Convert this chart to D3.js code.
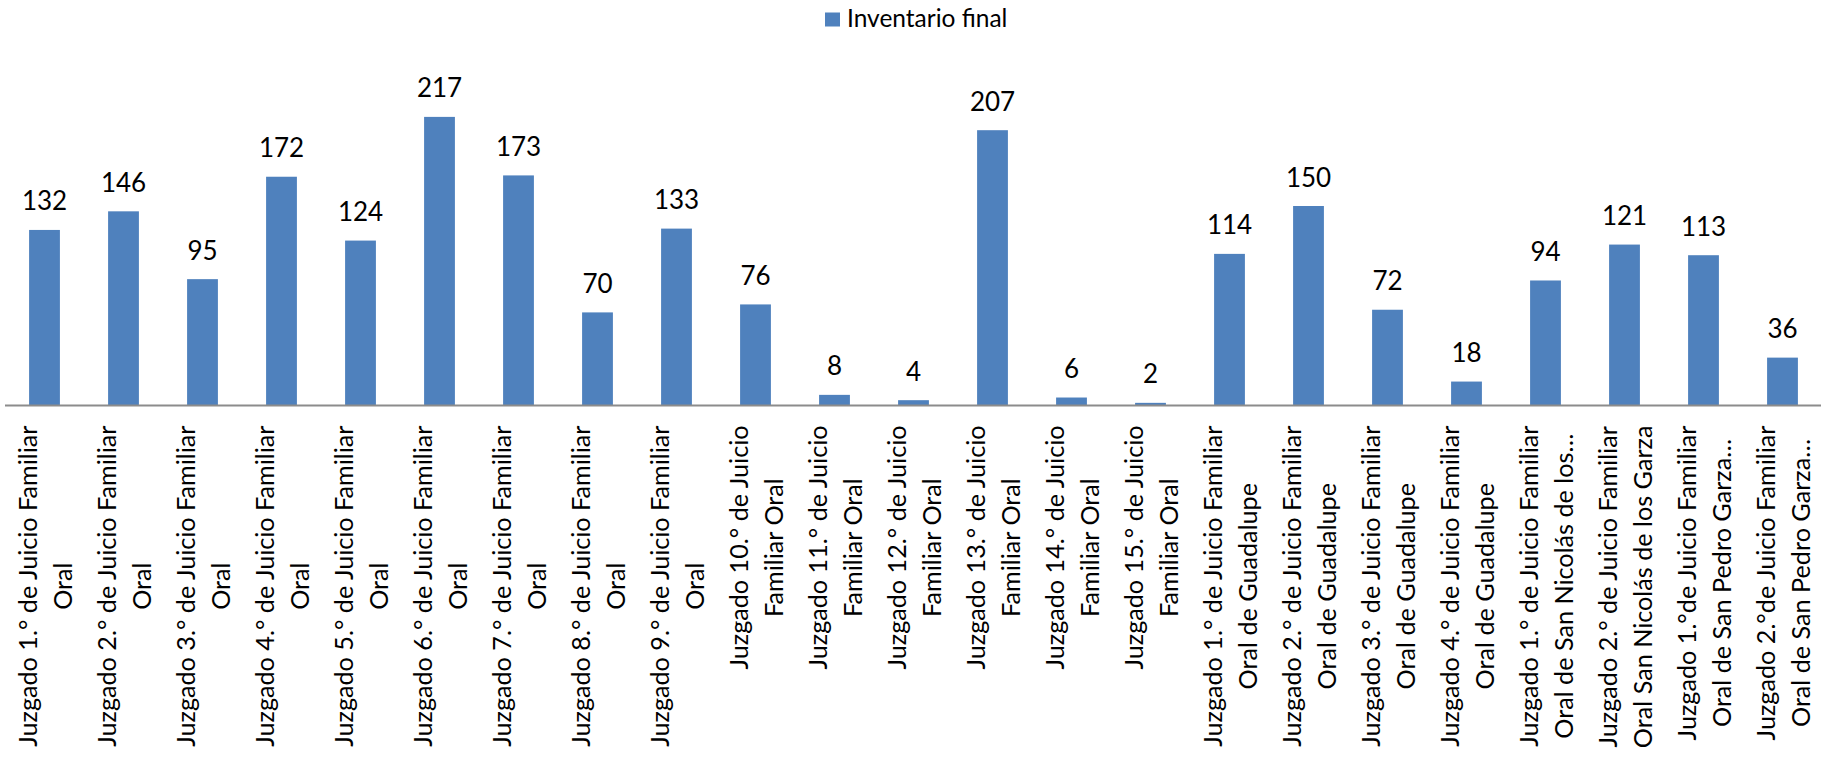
<!DOCTYPE html>
<html>
<head>
<meta charset="utf-8">
<script src="https://cdn.jsdelivr.net/npm/d3@7"></script>
<style>
  html, body { margin: 0; padding: 0; background: #fff; }
  svg { display: block; }
  text { font-family: Lato, "Open Sans", "Noto Sans", sans-serif; fill: #000; }
</style>
</head>
<body>
<svg id="chart" width="1825" height="757"></svg>
<script>
const seriesName = "Inventario final";
const categories = [
  ["Juzgado 1.° de Juicio Familiar", "Oral"],
  ["Juzgado 2.° de Juicio Familiar", "Oral"],
  ["Juzgado 3.° de Juicio Familiar", "Oral"],
  ["Juzgado 4.° de Juicio Familiar", "Oral"],
  ["Juzgado 5.° de Juicio Familiar", "Oral"],
  ["Juzgado 6.° de Juicio Familiar", "Oral"],
  ["Juzgado 7.° de Juicio Familiar", "Oral"],
  ["Juzgado 8.° de Juicio Familiar", "Oral"],
  ["Juzgado 9.° de Juicio Familiar", "Oral"],
  ["Juzgado 10.° de Juicio", "Familiar Oral"],
  ["Juzgado 11.° de Juicio", "Familiar Oral"],
  ["Juzgado 12.° de Juicio", "Familiar Oral"],
  ["Juzgado 13.° de Juicio", "Familiar Oral"],
  ["Juzgado 14.° de Juicio", "Familiar Oral"],
  ["Juzgado 15.° de Juicio", "Familiar Oral"],
  ["Juzgado 1.° de Juicio Familiar", "Oral de Guadalupe"],
  ["Juzgado 2.° de Juicio Familiar", "Oral de Guadalupe"],
  ["Juzgado 3.° de Juicio Familiar", "Oral de Guadalupe"],
  ["Juzgado 4.° de Juicio Familiar", "Oral de Guadalupe"],
  ["Juzgado 1.° de Juicio Familiar", "Oral de San Nicolás de los…"],
  ["Juzgado 2.° de Juicio Familiar", "Oral San Nicolás de los Garza"],
  ["Juzgado 1.°de Juicio Familiar", "Oral de San Pedro Garza…"],
  ["Juzgado 2.°de Juicio Familiar", "Oral de San Pedro Garza…"]
];
const values = [132, 146, 95, 172, 124, 217, 173, 70, 133, 76, 8, 4, 207, 6, 2, 114, 150, 72, 18, 94, 121, 113, 36];
const yDomain = [0, 250];

const color = "#4F81BD";
const svg = d3.select("#chart");
const axisY = 405.5;

const keys = categories.map((c, i) => i);
const x = d3.scaleBand().domain(keys).range([5, 1822]).paddingInner(0.61).paddingOuter(0.305);
const y = d3.scaleLinear().domain(yDomain).range([axisY, 73]);

// bars
svg.append("g").selectAll("rect").data(values).join("rect")
  .attr("x", (d, i) => x(i))
  .attr("width", x.bandwidth())
  .attr("y", d => y(d))
  .attr("height", d => y(0) - y(d))
  .attr("fill", color);

// x axis
const xAxis = d3.axisBottom(x).tickSize(0).tickFormat("");
const gx = svg.append("g").attr("transform", `translate(0,${axisY})`).call(xAxis);
gx.select(".domain").attr("stroke", "#8c8c8c").attr("stroke-width", 2)
  .attr("d", "M5,0H1821");

// category labels
const labFont = 25.2;
const lab = svg.append("g");
categories.forEach((lines, i) => {
  const cx = x(i) + x.bandwidth() / 2;
  const g = lab.append("g").attr("transform", `translate(${cx},${axisY + 20}) rotate(-90)`);
  const ts = lines.map((t, k) => g.append("text")
    .attr("font-size", labFont)
    .attr("text-anchor", "middle")
    .attr("y", -8 + k * 35)
    .text(t));
  const maxW = d3.max(ts, t => t.node().getComputedTextLength());
  ts.forEach(t => t.attr("x", -maxW / 2));
});

// value labels
svg.append("g").selectAll("text").data(values).join("text")
  .attr("x", (d, i) => x(i) + x.bandwidth() / 2)
  .attr("y", d => y(d) - 19.5)
  .attr("text-anchor", "middle")
  .attr("font-size", 26)
  .text(d => d);

// legend
const leg = svg.append("g");
leg.append("rect").attr("x", 825).attr("y", 12.5).attr("width", 15).attr("height", 14).attr("fill", color);
leg.append("text").attr("x", 847).attr("y", 27).attr("font-size", 24.5).text(seriesName);
</script>
</body>
</html>
